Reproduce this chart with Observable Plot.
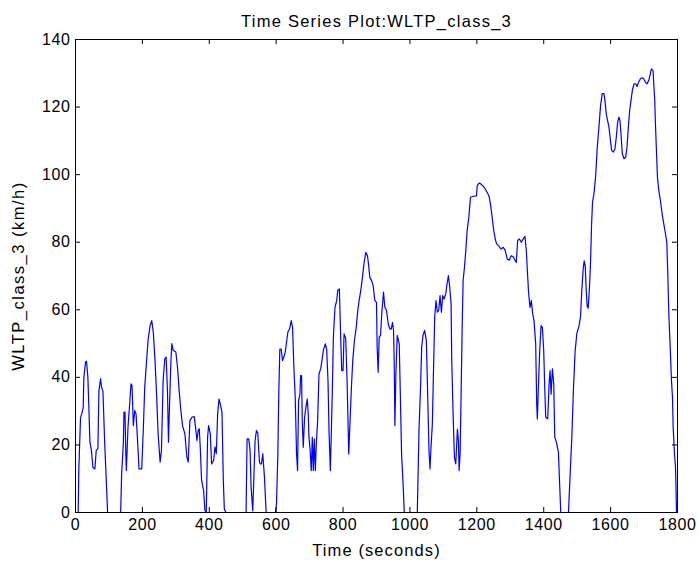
<!DOCTYPE html>
<html>
<head>
<meta charset="utf-8">
<script src="https://cdn.jsdelivr.net/npm/d3@7"></script>
<script src="https://cdn.jsdelivr.net/npm/@observablehq/plot@0.6"></script>
<style>
  html, body { margin: 0; padding: 0; background: #ffffff; }
  #chart { width: 699px; height: 561px; }
</style>
</head>
<body>
<div id="chart"></div>
<script>
const titleText = "Time Series Plot:WLTP_class_3";
const xLabel = "Time (seconds)";
const yLabel = "WLTP_class_3 (km/h)";
const xTicks = [0, 200, 400, 600, 800, 1000, 1200, 1400, 1600, 1800];
const yTicks = [0, 20, 40, 60, 80, 100, 120, 140];

const time = [
  0, 8, 10, 15, 20, 23, 25, 30, 33, 37, 40, 43, 48, 52, 58, 62, 67, 70, 75, 78, 82, 87, 92, 96,
  135, 138, 143, 145, 148, 150, 152, 157, 162, 166, 169, 173, 177, 181, 185, 190, 198,
  203, 207, 213, 217, 223, 228, 233, 238, 242, 247, 253, 257, 262, 267, 271, 275, 278, 281, 285, 288, 292,
  300, 305, 310, 315, 320, 327, 333, 337, 342, 348, 355, 360, 363, 367, 370, 373, 377, 383, 387, 391,
  395, 398, 403, 407, 413, 417, 421, 425, 429, 435, 438, 442, 445, 450,
  510, 513, 518, 522, 525, 530, 533, 537, 541, 545, 550, 552, 556, 560, 565, 570, 598,
  601, 605, 608, 611, 615, 619, 623, 627, 631, 635, 640, 645, 649, 653, 657, 661, 664, 667, 671, 673, 676, 678,
  681, 685, 689, 693, 696, 698, 701, 705, 708, 711, 714, 717, 720, 724, 728, 733, 737, 741, 747, 751, 755, 758,
  762, 765, 768, 771, 776, 781, 784, 789, 792, 796, 800, 803, 808, 812, 815, 817, 821, 825, 829, 834, 839,
  844, 848, 853, 858, 863, 868, 873, 876, 880, 885, 890, 895, 900, 902, 905, 908, 912, 916, 921, 925, 930,
  935, 940, 944, 948, 951, 953, 955, 958, 962, 968, 971, 975, 980, 983,
  1022, 1027, 1032, 1035, 1039, 1044, 1049, 1052, 1057, 1060, 1063, 1067, 1070, 1074, 1078, 1082, 1086, 1090,
  1094, 1098, 1102, 1107, 1111, 1115, 1119, 1123, 1125, 1129, 1133, 1137, 1142, 1145, 1147, 1150, 1153, 1156,
  1159, 1163, 1167, 1171, 1176, 1181, 1190, 1199, 1201, 1206, 1209, 1217, 1225, 1232, 1236, 1240, 1244, 1247,
  1250, 1255, 1259, 1265, 1272, 1279, 1285, 1291, 1297, 1303, 1309, 1315, 1318, 1322, 1327, 1333, 1339, 1344,
  1348, 1351, 1355, 1359, 1363, 1367, 1371, 1376, 1379, 1381, 1384, 1388, 1392, 1396, 1400, 1403, 1406, 1412,
  1416, 1419, 1422, 1426, 1430, 1433, 1436, 1439, 1444, 1448, 1451,
  1474, 1479, 1484, 1489, 1494, 1499, 1505, 1510, 1514, 1518, 1521, 1524, 1527, 1530, 1533, 1537, 1540, 1543,
  1546, 1550, 1555, 1560, 1565, 1570, 1575, 1580, 1583, 1587, 1591, 1595, 1599, 1603, 1608, 1613, 1617, 1621,
  1625, 1628, 1631, 1635, 1640, 1645, 1649, 1653, 1657, 1661, 1665, 1670, 1675, 1679, 1684, 1689, 1694, 1699,
  1704, 1709, 1714, 1719, 1722, 1727, 1729, 1732, 1734, 1737, 1740, 1744, 1749, 1754, 1759, 1764, 1768, 1771,
  1774, 1779, 1782, 1785, 1787, 1791, 1794, 1796, 1797, 1800
];

const speed = [
  0, 0, 13, 28, 29.7, 31, 40, 44.5, 44.8, 40, 31, 21, 18, 13.4, 12.9, 18.4, 18.9, 36, 39.6, 37, 36, 21.3, 9.5, 0,
  0, 11.5, 20.4, 29.7, 29.7, 19.4, 12.4, 25.3, 32.2, 38.1, 37.6, 25.7, 30.2, 29.2, 22.3, 12.9, 12.9,
  25.3, 37.1, 45.5, 51, 55.4, 56.8, 52.9, 44.5, 36, 23.3, 14.9, 18.4, 39.1, 45.5, 46, 36, 20.8, 31.2, 44, 50, 48,
  47.5, 43, 36, 30.2, 25.7, 23.3, 16.4, 14.9, 27.2, 28.2, 28.4, 24.3, 21.3, 24.3, 24.8, 19.4, 9.5, 6.5, 0.6, 0,
  22.3, 25.7, 23.3, 14.4, 15.4, 19.4, 17.4, 29.2, 33.6, 31.2, 29.7, 9.5, 1, 0,
  0, 21.8, 21.8, 18.4, 7.5, 0.5, 9.5, 21.3, 24.3, 23.5, 15, 14.4, 14.4, 17.4, 10.4, 0, 0,
  2.5, 17.3, 36, 48.4, 48.4, 45, 46, 47.4, 50.4, 53.4, 54.3, 56.8, 54.8, 43, 34, 17.3, 12.4, 33.1, 35, 40.5, 40.5, 27.2,
  19.3, 28.2, 31.2, 33.6, 29.2, 22.3, 19.3, 12.4, 22.3, 12.4, 21.8, 12.4, 20.3, 27.2, 41, 42.5, 45, 48, 49.9, 48.4, 39, 24.2,
  12.4, 24.2, 36.1, 51.9, 60.8, 62.7, 65.7, 66.2, 54.8, 42, 42, 52.9, 51.4, 39, 26.2, 17.3, 27.2, 37.1, 45, 50.9, 54.4,
  59.8, 62.7, 65.7, 69.6, 74, 77, 76, 73.6, 69.6, 68.7, 67.2, 62.7, 62.2, 48.9, 41.5, 51.9, 52.4, 59.3, 65.2, 60.8, 59.8,
  55.8, 54.3, 54.3, 56.3, 53.8, 44, 25.7, 41, 52.4, 49.9, 36, 17.3, 7.5, 0,
  0, 24.2, 38, 48.9, 52.4, 53.9, 50.9, 39, 18.3, 12.9, 19.3, 26.2, 40, 57.8, 62.7, 59.3, 59.8, 64.2,
  59.3, 64.2, 63.2, 64.7, 67.7, 70.1, 66.7, 61.7, 45, 29.2, 16.3, 14.4, 24.7, 21, 12.4, 17.3, 35.1, 53.9,
  68.7, 72.6, 77.5, 83.4, 87.3, 93.3, 93.6, 93.7, 96.7, 97.4, 97.5, 96.8, 95.8, 94.5, 93.8, 91.8, 88.9, 86.4,
  83.9, 81, 79.5, 79, 78, 78.5, 77.5, 75, 74.7, 76, 75.7, 74.5, 74, 80.5, 81, 80, 81, 81.7,
  77.5, 71.6, 64.7, 60.7, 62.7, 58.8, 56.8, 49.9, 32.1, 27.7, 37, 47.9, 55.3, 54.8, 47.9, 37, 28.2, 27.7,
  38, 42, 35, 42.5, 38, 22.2, 21.5, 20.3, 17.8, 7.4, 0,
  0, 11.4, 22.2, 37, 47.9, 53, 55, 58, 66, 72, 74.5, 73, 66, 61, 60.5, 67, 74, 85,
  92, 94.2, 99.2, 108, 114, 120.5, 124, 124, 122, 118, 116, 114.1, 110.6, 107.2, 106.7, 107.6, 111.1, 115.5,
  117, 116, 112.1, 106.2, 104.7, 105.2, 108.1, 114.1, 119, 122, 124.9, 126.9, 126.9, 126.1, 127.4, 128.4, 128.7, 128.4,
  127.4, 126.9, 127.9, 129.9, 131.3, 130.8, 126.9, 122, 115.1, 107.2, 99.3, 95.3, 92.3, 88.4, 85.4, 82.5, 80, 70.6,
  58.8, 46.9, 39, 34.1, 25.2, 17.3, 13.4, 5.5, 0, 0
];

const data = time.map((t, i) => ({t, v: speed[i]}));

const W = 699, H = 561;
const mL = 75, mR = 22, mT = 39, mB = 49;
const frameW = W - mL - mR, frameH = H - mT - mB;
const tickLen = 5;

const chart = Plot.plot({
  width: W,
  height: H,
  marginLeft: mL,
  marginRight: mR,
  marginTop: mT,
  marginBottom: mB,
  style: {
    fontFamily: "'Liberation Sans', Arial, sans-serif",
    fontSize: "16px",
    background: "#ffffff",
    color: "#000000",
    overflow: "visible"
  },
  x: {domain: [0, 1800]},
  y: {domain: [0, 140]},
  marks: [
    Plot.line(data, {x: "t", y: "v", stroke: "#0000ff", strokeWidth: 1.2}),
    Plot.frame({stroke: "#000000", strokeWidth: 1}),
    Plot.tickX(xTicks, {x: d => d, stroke: "#000000", insetTop: frameH - tickLen}),
    Plot.tickX(xTicks, {x: d => d, stroke: "#000000", insetBottom: frameH - tickLen}),
    Plot.tickY(yTicks, {y: d => d, stroke: "#000000", insetRight: frameW - tickLen}),
    Plot.tickY(yTicks, {y: d => d, stroke: "#000000", insetLeft: frameW - tickLen}),
    Plot.axisX(xTicks, {
      tickSize: 0, tickPadding: 6, fontSize: 16, tickFormat: d => String(d),
      label: xLabel, labelAnchor: "center", labelArrow: "none", labelOffset: 43
    }),
    Plot.axisY(yTicks, {
      tickSize: 0, tickPadding: 5, fontSize: 16, tickFormat: d => String(d),
      label: yLabel, labelAnchor: "center", labelArrow: "none", labelOffset: 63
    }),
    Plot.text([titleText], {text: d => d, frameAnchor: "top", dy: -24, fontSize: 16.5, fill: "#000000"})
  ]
});

// text spacing to mimic the wider glyph rendering of the reference
const svg = d3.select(chart);
svg.selectAll('g[aria-label="x-axis tick label"] text, g[aria-label="y-axis tick label"] text')
  .style("letter-spacing", "0.6px");
svg.selectAll('g[aria-label="x-axis label"] text')
  .style("font-size", "16.5px").style("letter-spacing", "1.1px");
svg.selectAll('g[aria-label="y-axis label"] text')
  .style("font-size", "16.5px").style("letter-spacing", "1.5px");
svg.selectAll('g[aria-label="text"] text').style("letter-spacing", "1.25px");

document.getElementById("chart").appendChild(chart);
</script>
</body>
</html>
